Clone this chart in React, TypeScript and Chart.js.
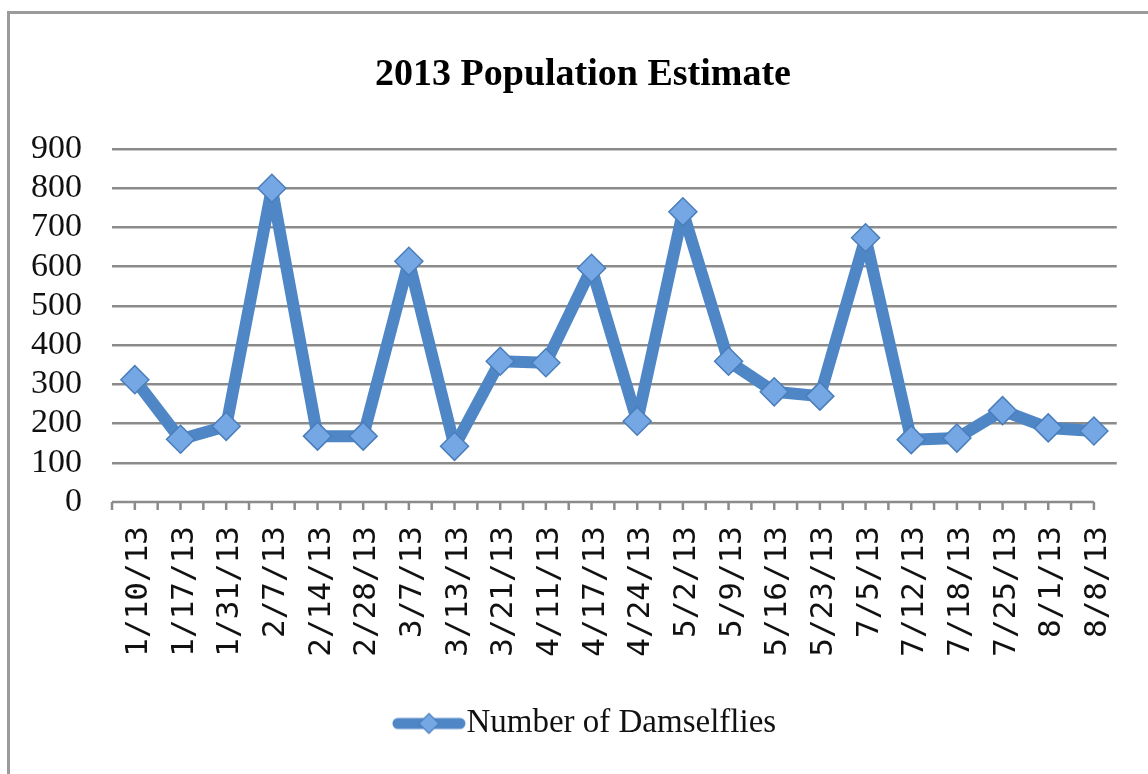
import React, { useEffect, useRef } from "react";
import { Chart, registerables } from "chart.js";

Chart.register(...registerables);

const TITLE = "2013 Population Estimate";
const SERIES_NAME = "Number of Damselflies";
const categories = [
  "1/10/13", "1/17/13", "1/31/13", "2/7/13", "2/14/13", "2/28/13", "3/7/13",
  "3/13/13", "3/21/13", "4/11/13", "4/17/13", "4/24/13", "5/2/13", "5/9/13",
  "5/16/13", "5/23/13", "7/5/13", "7/12/13", "7/18/13", "7/25/13", "8/1/13", "8/8/13",
];
const damselflies = [
  312, 160, 193, 800, 168, 168, 614, 142, 359, 355, 596, 206, 740, 359, 281, 270,
  674, 159, 163, 233, 189, 181,
];
const yTicks = [0, 100, 200, 300, 400, 500, 600, 700, 800, 900];

const LINE_COLOR = "#4f86c6";
const POINT_FILL = "#74a7e4";
const POINT_BORDER = "#4a7ebb";
const GRID_COLOR = "#8b8b8b";

function makeLegendImage(): HTMLCanvasElement {
  const c = document.createElement("canvas");
  c.width = 92;
  c.height = 30;
  const g = c.getContext("2d")!;
  g.strokeStyle = LINE_COLOR;
  g.lineWidth = 11;
  g.lineCap = "round";
  g.beginPath();
  g.moveTo(24, 15);
  g.lineTo(86, 15);
  g.stroke();
  const cx = 55, cy = 15, r = 10;
  g.beginPath();
  g.moveTo(cx, cy - r);
  g.lineTo(cx + r, cy);
  g.lineTo(cx, cy + r);
  g.lineTo(cx - r, cy);
  g.closePath();
  g.fillStyle = POINT_FILL;
  g.fill();
  g.strokeStyle = POINT_BORDER;
  g.lineWidth = 1.2;
  g.stroke();
  return c;
}

const axisPlugin = {
  id: "excelAxis",
  afterLayout(chart: any) {
    // centre title and legend on the full frame width (as in the original)
    if (chart.titleBlock) chart.titleBlock.left += 39;
    if (chart.legend) chart.legend.left += 39;
  },
  beforeDatasetsDraw(chart: any) {
    const x = chart.scales.x;
    const y = chart.scales.y;
    const ctx = chart.ctx;
    const n = categories.length;
    const step = x.getPixelForValue(1) - x.getPixelForValue(0);
    const y0 = y.getPixelForValue(0);
    const start = x.getPixelForValue(0) - step / 2;
    const end = x.getPixelForValue(n - 1);
    ctx.save();
    ctx.strokeStyle = GRID_COLOR;
    ctx.lineWidth = 2.5;
    ctx.beginPath();
    ctx.moveTo(start, y0);
    ctx.lineTo(end, y0);
    for (let k = 0; k <= 2 * (n - 1) + 1; k++) {
      const px = start + (k * step) / 2;
      ctx.moveTo(px, y0);
      ctx.lineTo(px, y0 + 8);
    }
    ctx.stroke();
    ctx.restore();
  },
};

export default function App() {
  const ref = useRef<HTMLCanvasElement>(null);

  useEffect(() => {
    if (!ref.current) return;
    const legendImg = makeLegendImage();
    const chart = new Chart(ref.current, {
      type: "line",
      data: {
        labels: categories,
        datasets: [
          {
            label: SERIES_NAME,
            data: damselflies,
            borderColor: LINE_COLOR,
            borderWidth: 12,
            borderJoinStyle: "round",
            borderCapStyle: "round",
            pointStyle: "rectRot",
            pointRadius: 14,
            pointBackgroundColor: POINT_FILL,
            pointBorderColor: POINT_BORDER,
            pointBorderWidth: 1.5,
            tension: 0,
          },
        ],
      },
      options: {
        animation: false,
        responsive: false,
        devicePixelRatio: 1,
        layout: { padding: { left: 0, right: 39, top: 0, bottom: 24 } },
        plugins: {
          title: {
            display: true,
            text: TITLE,
            color: "#000",
            font: { family: "'Liberation Serif', serif", size: 38, weight: "bold" },
            padding: { top: 38, bottom: 51.5 },
          },
          legend: {
            display: true,
            position: "bottom",
            labels: {
              usePointStyle: true,
              pointStyleWidth: 60,
              color: "#111",
              font: { family: "'Liberation Serif', serif", size: 33 },
              padding: 10,
              generateLabels: () => [
                {
                  text: SERIES_NAME,
                  pointStyle: legendImg as any,
                  fillStyle: POINT_FILL,
                  strokeStyle: POINT_BORDER,
                  lineWidth: 0,
                  hidden: false,
                  datasetIndex: 0,
                  fontColor: "#111",
                } as any,
              ],
            },
          },
          tooltip: { enabled: false },
        },
        scales: {
          x: {
            type: "category",
            offset: true,
            grid: { display: false, drawTicks: false },
            border: { display: false },
            ticks: {
              autoSkip: false,
              minRotation: 90,
              maxRotation: 90,
              padding: 24,
              labelOffset: 4,
              color: "#111",
              font: { family: "'DejaVu Sans Mono', monospace", size: 31 },
            },
            afterFit: (scale: any) => {
              scale.height = 195;
            },
          },
          y: {
            min: 0,
            max: 900,
            afterBuildTicks: (scale: any) => {
              scale.ticks = yTicks.map((v) => ({ value: v }));
            },
            grid: {
              drawTicks: false,
              lineWidth: 2.5,
              color: (ctx: any) => (ctx.tick && ctx.tick.value === 0 ? "rgba(0,0,0,0)" : GRID_COLOR),
            },
            border: { display: false },
            ticks: {
              autoSkip: false,
              padding: 30,
              color: "#111",
              font: { family: "'Liberation Serif', serif", size: 34 },
            },
            afterFit: (scale: any) => {
              scale.width = 102;
            },
          },
        },
      },
      plugins: [axisPlugin],
    });
    return () => chart.destroy();
  }, []);

  return (
    <div
      style={{
        position: "fixed",
        left: 0,
        top: 0,
        width: 1148,
        height: 774,
        overflow: "hidden",
        background: "#fff",
      }}
    >
      <div
        style={{
          position: "absolute",
          left: 7,
          top: 11,
          width: 1160,
          height: 780,
          borderLeft: "3px solid #9b9b9b",
          borderTop: "3px solid #9b9b9b",
        }}
      >
        <canvas
          ref={ref}
          width={1146}
          height={760}
          style={{ position: "absolute", left: 0, top: 0, width: 1146, height: 760 }}
        />
      </div>
    </div>
  );
}
